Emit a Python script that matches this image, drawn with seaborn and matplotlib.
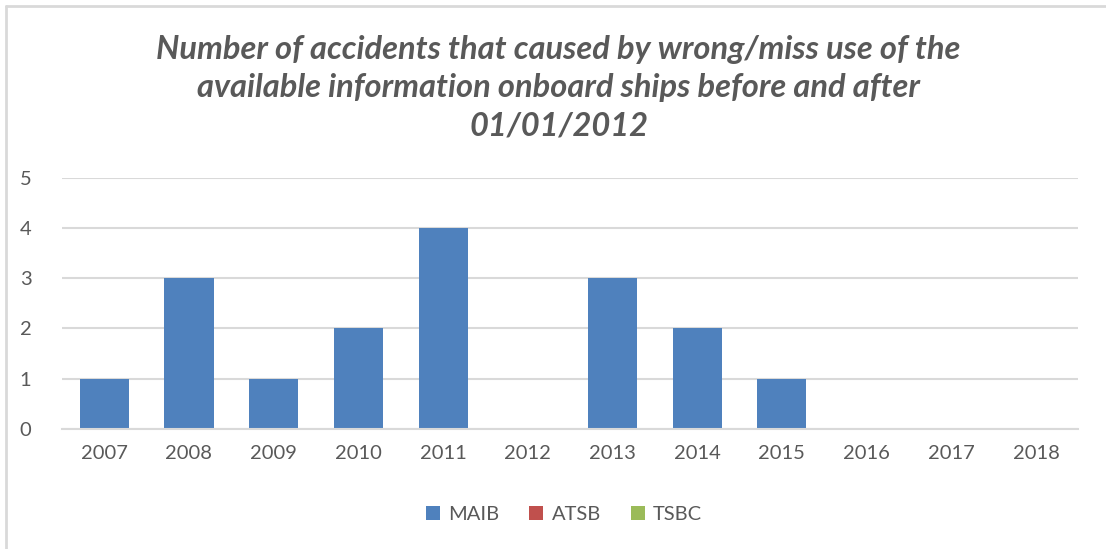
import numpy as np
import pandas as pd
import matplotlib
matplotlib.use("Agg")
import matplotlib.pyplot as plt
import seaborn as sns
from matplotlib.lines import Line2D

years = ["2007", "2008", "2009", "2010", "2011", "2012",
         "2013", "2014", "2015", "2016", "2017", "2018"]
maib = [1, 3, 1, 2, 4, 0, 3, 2, 1, 0, 0, 0]
atsb = [0] * 12
tsbc = [0] * 12
series = ["MAIB", "ATSB", "TSBC"]
colors = ["#4F81BD", "#C0504D", "#9BBB59"]

df = pd.DataFrame({
    "year": years * 3,
    "count": maib + atsb + tsbc,
    "agency": [s for s in series for _ in years],
})

sns.set_style("white")
plt.rcParams["font.family"] = ["Lato", "DejaVu Sans"]
grey = "#595959"

fig = plt.figure(figsize=(11.06, 5.49), dpi=100)
ax = fig.add_axes([0.056, 0.219, 0.919, 0.457])

sns.barplot(data=df, x="year", y="count", hue="agency", palette=colors,
            dodge=False, width=0.58, saturation=1, linewidth=0,
            ax=ax, legend=True)

ax.set_ylim(0, 5)
ax.set_xlim(-0.5, 11.5)
ax.set_yticks(range(6))
ax.yaxis.grid(True, color="#d9d9d9", linewidth=1.5)
ax.set_axisbelow(True)
for s in ["top", "right", "left"]:
    ax.spines[s].set_visible(False)
ax.spines["bottom"].set_color("#d9d9d9")
ax.spines["bottom"].set_linewidth(1.5)
ax.tick_params(axis="both", length=0, labelsize=14.5, colors=grey, pad=12)
ax.tick_params(axis="y", pad=22)
ax.set_xlabel("")
ax.set_ylabel("")

leg = ax.legend(loc="center", bbox_to_anchor=(0.494, -0.34), ncol=3,
                frameon=False, fontsize=14.5, handlelength=0.7, handleheight=0.7,
                handletextpad=0.4, columnspacing=1.5)
for t in leg.get_texts():
    t.set_color(grey)

fig.text(0.505, 0.84,
         "Number of accidents that caused by wrong/miss use of the\n"
         "available information onboard ships before and after\n"
         "01/01/2012",
         ha="center", va="center", fontsize=23.5, fontweight="bold",
         fontstyle="italic", color=grey, linespacing=1.38)

# chart frame (top and left edges only are visible)
fig.add_artist(Line2D([6 / 1106, 6 / 1106], [0, 1 - 6 / 549],
                      transform=fig.transFigure, color="#d9d9d9", linewidth=2))
fig.add_artist(Line2D([6 / 1106, 1], [1 - 6 / 549, 1 - 6 / 549],
                      transform=fig.transFigure, color="#d9d9d9", linewidth=2))

fig.savefig("out.png", dpi=100, facecolor="white")
